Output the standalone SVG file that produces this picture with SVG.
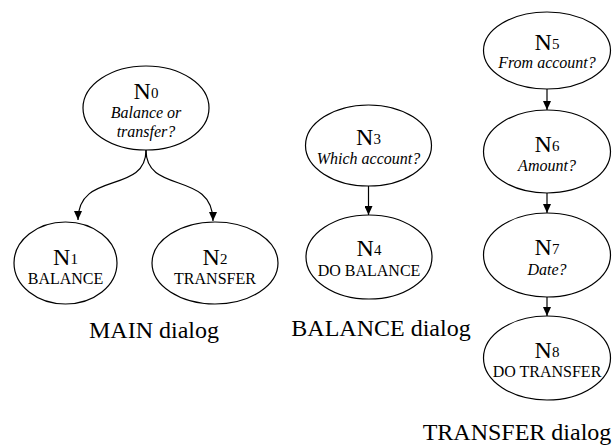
<svg xmlns="http://www.w3.org/2000/svg" width="612" height="448" viewBox="0 0 612 448">
<defs>
<marker id="ah" markerWidth="10" markerHeight="8" refX="9" refY="4" orient="auto" markerUnits="userSpaceOnUse">
<path d="M0,0 L9,4 L0,8 Z" fill="#000"/>
</marker>
<style>
.nd{fill:#fff;stroke:#000;stroke-width:1.2}
.t{font-family:"Liberation Serif","Times New Roman",serif;fill:#000;text-anchor:middle}
.n{font-size:24px}
.d{font-size:15px}
.q{font-size:16px;font-style:italic}
.c{font-size:16px}
.cap{font-size:24px}
.e{fill:none;stroke:#000;stroke-width:1.2;marker-end:url(#ah)}
</style>
</defs>
<rect width="612" height="448" fill="#fff"/>
<g id="connectors">
<path class="e" d="M146,150 C146,195 78,170 78,220"/>
<path class="e" d="M146,150 C146,195 213,170 213,221"/>
<path class="e" d="M368.5,186 L368.5,215"/>
<path class="e" d="M547,89 L547,110"/>
<path class="e" d="M547,193 L547,213"/>
<path class="e" d="M547,297 L547,316"/>
</g>
<g id="N0">
<ellipse class="nd" cx="146" cy="108" rx="63" ry="42"/>
<text class="t" x="146" y="99"><tspan class="n">N</tspan><tspan class="d" dy="-1.5">0</tspan></text>
<text class="t q" x="146" y="118">Balance or</text>
<text class="t q" x="146" y="137">transfer?</text>
</g>
<g id="N1">
<ellipse class="nd" cx="65.5" cy="263" rx="51.5" ry="41"/>
<text class="t" x="65.5" y="265"><tspan class="n">N</tspan><tspan class="d" dy="-1.5">1</tspan></text>
<text class="t c" x="65.5" y="284">BALANCE</text>
</g>
<g id="N2">
<ellipse class="nd" cx="215" cy="263" rx="63" ry="41"/>
<text class="t" x="215" y="265"><tspan class="n">N</tspan><tspan class="d" dy="-1.5">2</tspan></text>
<text class="t c" x="215" y="284">TRANSFER</text>
</g>
<g id="N3">
<ellipse class="nd" cx="368.5" cy="145.5" rx="63" ry="40.5"/>
<text class="t" x="368.5" y="145"><tspan class="n">N</tspan><tspan class="d" dy="-1.5">3</tspan></text>
<text class="t q" x="368.5" y="163.5">Which account?</text>
</g>
<g id="N4">
<ellipse class="nd" cx="369" cy="257" rx="63" ry="42"/>
<text class="t" x="369" y="256"><tspan class="n">N</tspan><tspan class="d" dy="-1.5">4</tspan></text>
<text class="t c" x="369" y="276">DO BALANCE</text>
</g>
<g id="N5">
<ellipse class="nd" cx="547" cy="50.5" rx="63.5" ry="38.5"/>
<text class="t" x="547" y="50"><tspan class="n">N</tspan><tspan class="d" dy="-1.5">5</tspan></text>
<text class="t q" x="547" y="68">From account?</text>
</g>
<g id="N6">
<ellipse class="nd" cx="547" cy="151.5" rx="63.5" ry="41.5"/>
<text class="t" x="547" y="152"><tspan class="n">N</tspan><tspan class="d" dy="-1.5">6</tspan></text>
<text class="t q" x="547" y="171">Amount?</text>
</g>
<g id="N7">
<ellipse class="nd" cx="547" cy="255" rx="63.5" ry="42"/>
<text class="t" x="547" y="255"><tspan class="n">N</tspan><tspan class="d" dy="-1.5">7</tspan></text>
<text class="t q" x="547" y="275">Date?</text>
</g>
<g id="N8">
<ellipse class="nd" cx="547" cy="358" rx="63.5" ry="42"/>
<text class="t" x="547" y="358"><tspan class="n">N</tspan><tspan class="d" dy="-1.5">8</tspan></text>
<text class="t c" x="547" y="377">DO TRANSFER</text>
</g>
<g id="captions">
<text class="t cap" x="154" y="338">MAIN dialog</text>
<text class="t cap" x="381" y="336">BALANCE dialog</text>
<text class="t cap" x="517" y="440">TRANSFER dialog</text>
</g>
</svg>
